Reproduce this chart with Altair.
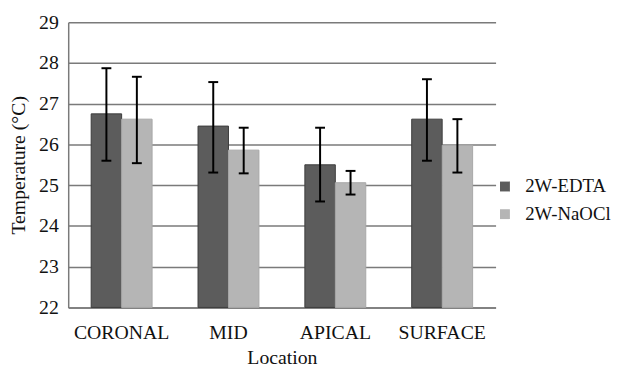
import altair as alt
import pandas as pd

locations = ["CORONAL", "MID", "APICAL", "SURFACE"]
groups = ["2W-EDTA", "2W-NaOCl"]
edta_mean = [26.75, 26.45, 25.5, 26.62]
edta_low = [25.6, 25.31, 24.6, 25.6]
edta_high = [27.87, 27.53, 26.41, 27.6]
naocl_mean = [26.62, 25.86, 25.06, 25.98]
naocl_low = [25.54, 25.29, 24.77, 25.31]
naocl_high = [27.66, 26.41, 25.35, 26.62]
y_base = 22

rows = []
for i, loc in enumerate(locations):
    rows.append({"Location": loc, "Group": groups[0], "mean": edta_mean[i], "low": edta_low[i], "high": edta_high[i]})
    rows.append({"Location": loc, "Group": groups[1], "mean": naocl_mean[i], "low": naocl_low[i], "high": naocl_high[i]})
df = pd.DataFrame(rows)

FONT = "Liberation Serif"
FS = 20

x = alt.X("Location:N", sort=locations, title="Location",
          scale=alt.Scale(paddingInner=0.43, paddingOuter=0.215),
          axis=alt.Axis(labelAngle=0, labelFontSize=FS, titleFontSize=FS, labelFont=FONT, titleFont=FONT,
                        labelColor="#111", titleColor="#111", titleFontWeight="normal",
                        ticks=False, labelPadding=15, titlePadding=6,
                        domainColor="#7a7a7a", domainWidth=1.5))
xo = alt.XOffset("Group:N", sort=groups)
y_scale = alt.Scale(domain=[22, 29], nice=False, zero=False)

bars = alt.Chart(df).mark_bar(strokeWidth=1).encode(
    x=x, xOffset=xo,
    y=alt.Y("mean:Q", scale=y_scale, title="Temperature (°C)",
            axis=alt.Axis(values=list(range(22, 30)), labelFontSize=FS, titleFontSize=FS,
                          labelFont=FONT, titleFont=FONT, labelColor="#111", titleColor="#111",
                          titleFontWeight="normal",
                          ticks=False, labelPadding=10, titlePadding=10, grid=True, gridColor="#7a7a7a",
                          gridWidth=1.5, domainColor="#7a7a7a", domainWidth=1.5)),
    y2=alt.datum(y_base),
    color=alt.Color("Group:N", sort=groups,
                    scale=alt.Scale(domain=groups, range=["#5c5c5c", "#b5b5b5"]),
                    legend=alt.Legend(title=None, orient="none", legendX=433, legendY=157,
                                      labelFont=FONT, labelFontSize=19, labelColor="#111",
                                      labelLimit=200,
                                      symbolType="square", symbolSize=100, symbolStrokeWidth=0,
                                      rowPadding=8, labelOffset=11)),
    stroke=alt.Stroke("Group:N", sort=groups,
                      scale=alt.Scale(domain=groups, range=["#3c3c3c", "#a8a8a8"]), legend=None),
)

err = alt.Chart(df).mark_rule(color="black", strokeWidth=2).encode(
    x=x, xOffset=xo, y=alt.Y("low:Q", scale=y_scale), y2="high:Q")
cap_hi = alt.Chart(df).mark_tick(color="black", thickness=2, size=10, opacity=1).encode(
    x=x, xOffset=xo, y=alt.Y("high:Q", scale=y_scale))
cap_lo = alt.Chart(df).mark_tick(color="black", thickness=2, size=10, opacity=1).encode(
    x=x, xOffset=xo, y=alt.Y("low:Q", scale=y_scale))

chart = alt.layer(bars, err, cap_hi, cap_lo).properties(
    width=433, height=289,
    autosize=alt.AutoSizeParams(type="none"),
    padding={"left": 61, "top": 12, "right": 122, "bottom": 58},
    background="white",
).configure_view(stroke=None)

chart.save("out.html", embed_options={"renderer": "svg", "actions": False})
